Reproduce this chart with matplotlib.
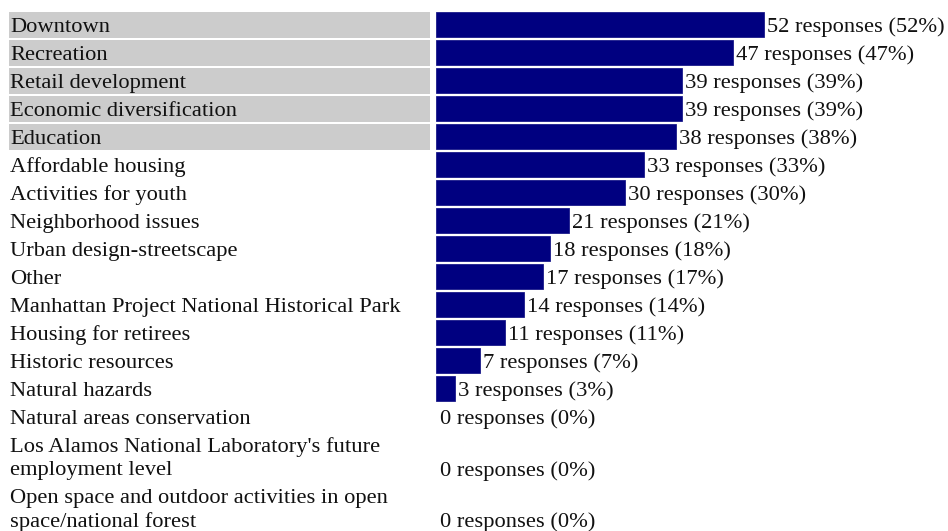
import matplotlib
matplotlib.use("Agg")
import matplotlib.pyplot as plt
from matplotlib.patches import Rectangle
import matplotlib.transforms as mtransforms

categories = [
    "Downtown", "Recreation", "Retail development", "Economic diversification",
    "Education", "Affordable housing", "Activities for youth",
    "Neighborhood issues", "Urban design-streetscape", "Other",
    "Manhattan Project National Historical Park", "Housing for retirees",
    "Historic resources", "Natural hazards", "Natural areas conservation",
    "Los Alamos National Laboratory's future\nemployment level",
    "Open space and outdoor activities in open\nspace/national forest",
]
responses = [52, 47, 39, 39, 38, 33, 30, 21, 18, 17, 14, 11, 7, 3, 0, 0, 0]
percents = [52, 47, 39, 39, 38, 33, 30, 21, 18, 17, 14, 11, 7, 3, 0, 0, 0]
highlighted = 5

plt.rcParams["font.family"] = "serif"
plt.rcParams["font.serif"] = ["Liberation Serif", "Times New Roman", "DejaVu Serif"]

W, H = 948, 531
fig = plt.figure(figsize=(W / 100, H / 100), dpi=100)
ax = fig.add_axes([0, 0, 1, 1])
ax.axis("off")

px_per_unit = 6.31
bar_x0 = 436
ax.set_xlim(-bar_x0 / px_per_unit, (W - bar_x0) / px_per_unit)
ax.set_ylim(H, 0)  # y in pixel rows

fs = 16.2
txt_col = "#111111"

row_h = 28.0
line_h = 23.5
top = 11.0
blend = mtransforms.blended_transform_factory(ax.transAxes, ax.transData)

for i, (cat, r, p) in enumerate(zip(categories, responses, percents)):
    lines = cat.split("\n")
    n = len(lines)
    centers = [top + 14 + k * line_h for k in range(n)]
    if i < highlighted:
        ax.add_patch(Rectangle((9 / W, centers[0] - 13), 421 / W, 26,
                               transform=blend, facecolor="#cccccc",
                               edgecolor="none", zorder=0))
    for k, ln in enumerate(lines):
        ax.text(10 / W, centers[k], ln, transform=blend, fontsize=fs,
                color=txt_col, va="center_baseline", ha="left")
    yc = centers[-1]
    if r > 0:
        ax.barh(yc - 0.5, r, height=25, left=0, color="#000080",
                edgecolor="#1a1a8a", linewidth=0.6, zorder=2)
    ax.annotate(f"{r} responses ({p}%)", xy=(r, yc),
                xytext=(2.2 if r > 0 else 3.2, 0),
                textcoords="offset points", fontsize=fs,
                color=txt_col, va="center_baseline", ha="left")
    top += row_h if n == 1 else 14 + (n - 1) * line_h + 14

fig.savefig("out.png", dpi=100)
